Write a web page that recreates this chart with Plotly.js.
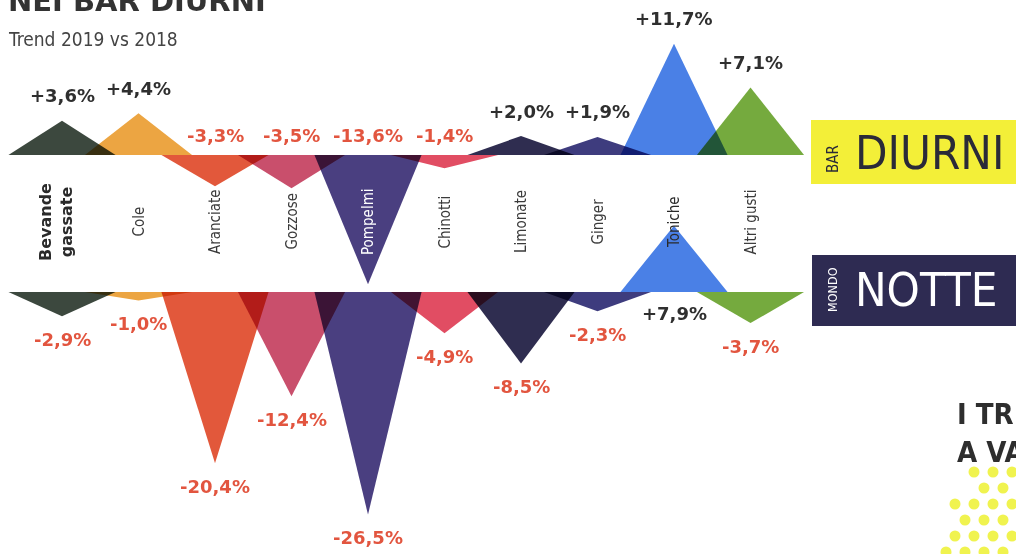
<!DOCTYPE html>
<html><head><meta charset="utf-8">
<script src="https://cdn.plot.ly/plotly-3.0.1.min.js"></script>
<style>
html,body{margin:0;padding:0;background:#fff;}
#chart{width:1016px;height:554px;}
.scatterlayer path.js-fill{mix-blend-mode:multiply;}
</style></head><body><div id="chart"></div>
<script>
// ---- DATA ----
const categories = ['Bevande<br>gassate','Cole','Aranciate','Gozzose','Pompelmi','Chinotti','Limonate','Ginger','Toniche','Altri gusti'];
const barDiurni  = [3.6, 4.4, -3.3, -3.5, -13.6, -1.4, 2.0, 1.9, 11.7, 7.1];
const mondoNotte = [-2.9, -1.0, -20.4, -12.4, -26.5, -4.9, -8.5, -2.3, 7.9, -3.7];
const seriesColors = ['#3c483e','#eca542','#e2583b','#c94f6c','#4a3f80','#e14d63','#2f2d50','#3e3c7e','#4a80e6','#75aa3e'];
const categoryTextColors = ['#2a2a2a','#3a3a3a','#3a3a3a','#3a3a3a','#ffffff','#3a3a3a','#3a3a3a','#3a3a3a','#2a2a2a','#3a3a3a'];
const titleText = 'NEI BAR DIURNI';
const subtitleText = 'Trend 2019 vs 2018';

// ---- LAYOUT HELPERS ----
const W = 1016, H = 554;
const px = x => x / W, py = y => 1 - y / H;
const X0 = 62, XSTEP = 76.5;      // pixel of first category, pixel per category
const TOP_BASE = 155, TOP_SCALE = 9.5;
const BOT_BASE = 292, BOT_SCALE = 8.4;
const HALF = 0.7;
const RED = '#e2553f', DARK = '#2f2f2f';
const PCT_FONT = 'DejaVu Sans, sans-serif';
const NARROW = 'DejaVu Sans Condensed, DejaVu Sans, sans-serif';

const fmt = v => (v > 0 ? '+' : '') + v.toFixed(1).replace('.', ',') + '%';

const traces = [];
function tri(i, v, yaxis) {
  return {type:'scatter', mode:'lines', x:[i-HALF, i, i+HALF, i-HALF], y:[0, v, 0, 0],
    fill:'toself', fillcolor:seriesColors[i], line:{width:0, color:seriesColors[i]},
    yaxis:yaxis, hoverinfo:'skip', showlegend:false};
}
categories.forEach((c, i) => { traces.push(tri(i, barDiurni[i], 'y')); });
categories.forEach((c, i) => { traces.push(tri(i, mondoNotte[i], 'y2')); });

const annotations = [];
// percentage labels
categories.forEach((c, i) => {
  const a = barDiurni[i];
  annotations.push({x:i, xref:'x', y: a > 0 ? a : 0, yref:'y', yshift: a > 0 ? 25 : 20,
    text:'<b>'+fmt(a)+'</b>', showarrow:false, xanchor:'center', yanchor:'middle',
    font:{family:PCT_FONT, size:18, color: a > 0 ? DARK : RED}});
  const b = mondoNotte[i];
  annotations.push({x:i, xref:'x', y: b < 0 ? b : 0, yref:'y2', yshift: b < 0 ? -23 : -21,
    text:'<b>'+fmt(b)+'</b>', showarrow:false, xanchor:'center', yanchor:'middle',
    font:{family:PCT_FONT, size:18, color: b < 0 ? RED : DARK}});
});
// category labels
categories.forEach((c, i) => {
  const first = i === 0;
  annotations.push({x:i, xref:'x', xshift: first ? -6 : 0, y:py(222), yref:'paper',
    xanchor:'center', yanchor:'middle',
    text: first ? '<b>'+c+'</b>' : c, textangle:-90, showarrow:false,
    font: first ? {family:PCT_FONT, size:16, color:categoryTextColors[i]}
                : {family:NARROW, size:15, color:categoryTextColors[i]}});
});
const P = (o) => Object.assign({xref:'paper', yref:'paper', showarrow:false, xanchor:'center', yanchor:'middle'}, o);
// titles
annotations.push(P({x:px(6), xanchor:'left', y:py(1), text:'<b>'+titleText+'</b>',
  font:{family:PCT_FONT, size:29, color:'#333333'}}));
annotations.push(P({x:px(6), xanchor:'left', y:py(39), text:subtitleText,
  font:{family:NARROW, size:19, color:'#444444'}}));
// logos
annotations.push(P({x:px(853), xanchor:'left', y:py(153), text:'DIURNI',
  font:{family:NARROW, size:47, color:'#2a2a38'}}));
annotations.push(P({x:px(833), y:py(159), textangle:-90, text:'BAR',
  font:{family:NARROW, size:15, color:'#2a2a38'}}));
annotations.push(P({x:px(853), xanchor:'left', y:py(289), text:'NOTTE',
  font:{family:NARROW, size:47, color:'#ffffff'}}));
annotations.push(P({x:px(832), y:py(290), textangle:-90, text:'MONDO',
  font:{family:NARROW, size:12.5, color:'#ffffff'}}));
annotations.push(P({x:px(955), xanchor:'left', align:'left', y:py(433), text:'<b>I TR<br>A VA</b>',
  font:{family:NARROW, size:29, color:'#2e2e2e'}}));

const shapes = [
  {type:'rect', xref:'paper', yref:'paper', x0:px(811), x1:1, y0:py(184), y1:py(120), fillcolor:'#f3ef38', line:{width:0}, layer:'below'},
  {type:'rect', xref:'paper', yref:'paper', x0:px(812), x1:1, y0:py(326), y1:py(255), fillcolor:'#2e2b52', line:{width:0}, layer:'below'}
];
// decorative halftone dots
for (let r = 0; r < 6; r++) {
  const cy = 472 + r * 16;
  const left = r < 2 ? 966 : (r < 5 ? 948 : 936);
  for (let cx = 1012 - (r % 2) * 9; cx >= left; cx -= 19) {
    shapes.push({type:'circle', xref:'paper', yref:'paper', x0:px(cx-5.5), x1:px(cx+5.5), y0:py(cy+5.5), y1:py(cy-5.5),
      fillcolor:'#eef23c', line:{width:0}, opacity:0.9, layer:'below'});
  }
}

const layout = {
  width:W, height:H, margin:{l:0, r:0, t:0, b:0},
  paper_bgcolor:'#ffffff', plot_bgcolor:'rgba(0,0,0,0)', showlegend:false,
  xaxis:{range:[-X0/XSTEP, (W-X0)/XSTEP], visible:false, fixedrange:true},
  yaxis:{range:[-(H-TOP_BASE)/TOP_SCALE, TOP_BASE/TOP_SCALE], visible:false, fixedrange:true},
  yaxis2:{range:[-(H-BOT_BASE)/BOT_SCALE, BOT_BASE/BOT_SCALE], overlaying:'y', visible:false, fixedrange:true},
  annotations:annotations, shapes:shapes
};
Plotly.newPlot('chart', traces, layout, {staticPlot:true, displayModeBar:false});
</script></body></html>
